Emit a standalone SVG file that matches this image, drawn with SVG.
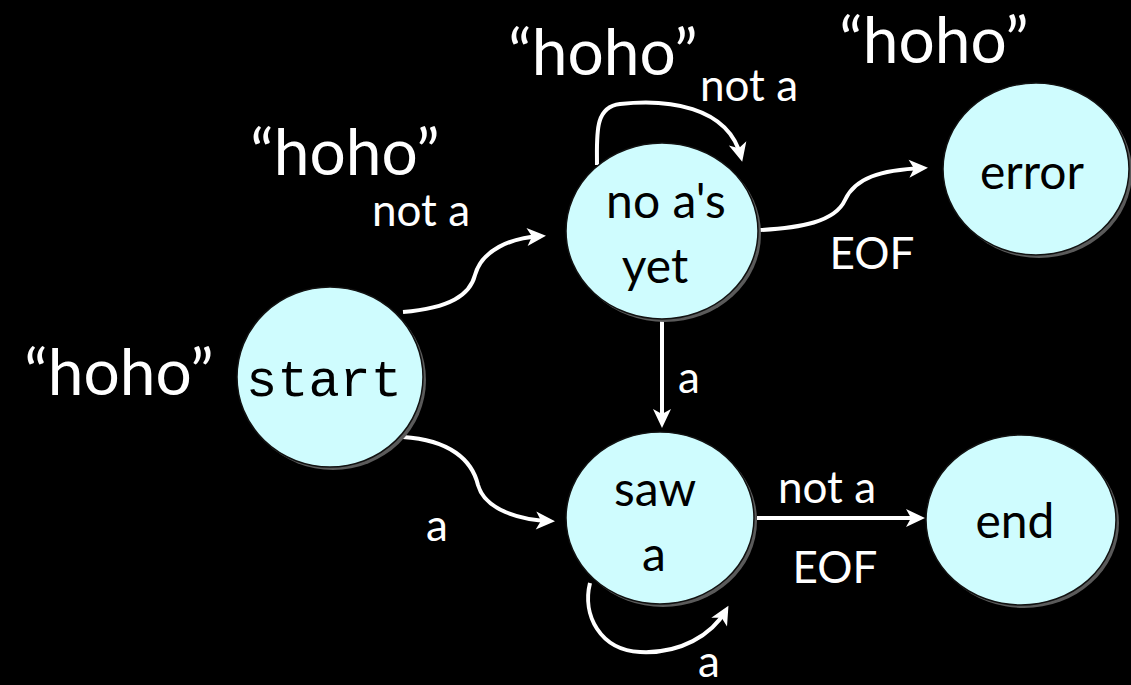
<svg xmlns="http://www.w3.org/2000/svg" width="1131" height="685" viewBox="0 0 1131 685">
<style>
.bg{fill:#000}
.shadow{fill:#5a5a5a}
.node{fill:#cffcfe;stroke:#111;stroke-width:1.5}
.nl{font-family:Lato,"Open Sans",sans-serif;font-size:48px;fill:#000;text-anchor:middle}
.mono{font-family:"Liberation Mono","Courier New",monospace;font-size:52px;fill:#000;text-anchor:middle}
.el{font-family:Lato,"Open Sans",sans-serif;font-size:44px;fill:#fff;text-anchor:middle}
.ho{font-family:Lato,"Open Sans",sans-serif;font-size:64px;fill:#fff;text-anchor:middle}
.edge{fill:none;stroke:#fff;stroke-width:4;marker-end:url(#arr)}
</style>
<defs>
<marker id="arr" markerUnits="userSpaceOnUse" markerWidth="30" markerHeight="30" viewBox="-20 -15 30 30" refX="0" refY="0" orient="auto">
<path d="M5,0 L-14,-9 L-9,0 L-14,9 Z" fill="#fff"/>
</marker>
</defs>
<rect class="bg" x="0" y="0" width="1131" height="685"/>
<g id="labels">
<text class="ho" x="119" y="395">“hoho”</text>
<text class="ho" x="345" y="175">“hoho”</text>
<text class="ho" x="603" y="75">“hoho”</text>
<text class="ho" x="934" y="63">“hoho”</text>
</g>
<g id="connectors">
<path class="edge" d="M403,312 C450,308 470,295 475,275 C482,250 510,238 541,236"/>
<path class="edge" d="M403,437 C450,440 472,460 478,485 C485,510 520,520 550,521"/>
<path class="edge" d="M597,165 C597,135 594,107 620,104 C665,99 728,105 741,157"/>
<path class="edge" d="M760,230 C800,228 835,222 845,200 C855,178 880,170 923,168"/>
<path class="edge" d="M662,318 L662,423"/>
<path class="edge" d="M757,518 L920,518"/>
<path class="edge" d="M590,583 C582,615 600,650 640,652 C680,654 712,635 726,610"/>
<text class="el" x="421" y="226">not a</text>
<text class="el" x="749" y="101">not a</text>
<text class="el" x="872" y="269">EOF</text>
<text class="el" x="689" y="393">a</text>
<text class="el" x="437" y="541">a</text>
<text class="el" x="827" y="503">not a</text>
<text class="el" x="835" y="583">EOF</text>
<text class="el" x="709" y="677">a</text>
</g>
<g id="node-start">
<ellipse class="shadow" cx="333" cy="380" rx="93" ry="90"/>
<ellipse class="node" cx="330" cy="377" rx="93" ry="90"/>
<text class="mono" x="324" y="396">start</text>
</g>
<g id="node-noas">
<ellipse class="shadow" cx="665" cy="234" rx="96" ry="88"/>
<ellipse class="node" cx="662" cy="231" rx="96" ry="88"/>
<text class="nl" x="666" y="218">no a's</text>
<text class="nl" x="655" y="283">yet</text>
</g>
<g id="node-sawa">
<ellipse class="shadow" cx="663" cy="521" rx="94" ry="86"/>
<ellipse class="node" cx="660" cy="518" rx="94" ry="86"/>
<text class="nl" x="655" y="506">saw</text>
<text class="nl" x="654" y="571">a</text>
</g>
<g id="node-error">
<ellipse class="shadow" cx="1039" cy="172" rx="93" ry="86"/>
<ellipse class="node" cx="1036" cy="169" rx="93" ry="86"/>
<text class="nl" x="1032" y="189">error</text>
</g>
<g id="node-end">
<ellipse class="shadow" cx="1024" cy="523" rx="95" ry="85"/>
<ellipse class="node" cx="1021" cy="520" rx="95" ry="85"/>
<text class="nl" x="1015" y="538">end</text>
</g>
</svg>
